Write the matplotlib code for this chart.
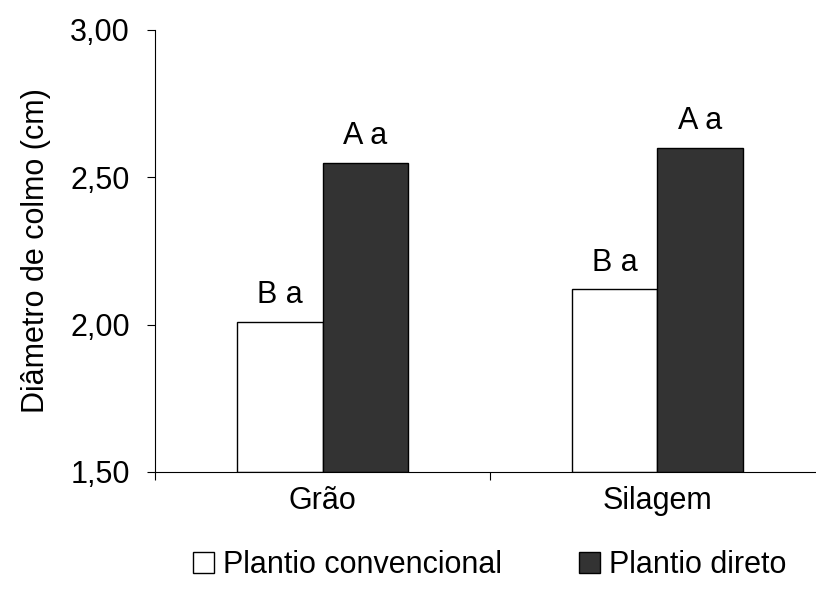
import matplotlib.pyplot as plt
from matplotlib.patches import Patch

plt.rcParams['font.family'] = ['Liberation Sans', 'DejaVu Sans']

categories = ['Grão', 'Silagem']
convencional = [2.01, 2.12]
direto = [2.55, 2.60]
labels_conv = ['B a', 'B a']
labels_dir = ['A a', 'A a']

fs = 22

fig = plt.figure(figsize=(8.16, 6.08), dpi=100)
ax = fig.add_axes([0.19, 0.2237, 0.821, 0.727])

w = 0.254
x = range(len(categories))
ax.bar([i - w / 2 for i in x], [v - 1.5 for v in convencional], w, bottom=1.5,
       color='white', edgecolor='black', linewidth=1)
ax.bar([i + w / 2 for i in x], [v - 1.5 for v in direto], w, bottom=1.5,
       color='#333333', edgecolor='black', linewidth=1)

for i in x:
    ax.text(i - w / 2, convencional[i] + 0.04, labels_conv[i], ha='center', va='bottom', fontsize=fs)
    ax.text(i + w / 2, direto[i] + 0.04, labels_dir[i], ha='center', va='bottom', fontsize=fs)

ax.set_xlim(-0.5, 1.5)
ax.set_ylim(1.5, 3.0)
ax.set_yticks([1.5, 2.0, 2.5, 3.0])
ax.set_yticklabels(['1,50', '2,00', '2,50', '3,00'], fontsize=fs)
ax.set_xticks([-0.5, 0.5, 1.5])
ax.set_xticklabels([])
ax.set_xticks(list(x), minor=True)
ax.set_xticklabels(categories, minor=True, fontsize=fs)
ax.tick_params(axis='x', which='minor', length=0, pad=10)
ax.tick_params(axis='x', which='major', length=6, direction='out')
ax.tick_params(axis='y', length=6, direction='out', pad=12)
ax.spines['top'].set_visible(False)
ax.spines['right'].set_visible(False)
ax.set_ylabel('Diâmetro de colmo (cm)', fontsize=fs, labelpad=14)

handles = [Patch(facecolor='white', edgecolor='black', label='Plantio convencional'),
           Patch(facecolor='#333333', edgecolor='black', label='Plantio direto')]
fig.legend(handles=handles, loc='center', bbox_to_anchor=(0.6, 0.07), ncol=2, frameon=False,
           fontsize=fs, handlelength=0.7, handleheight=0.7, handletextpad=0.3, columnspacing=2.5)

fig.savefig('out.png', dpi=100)
